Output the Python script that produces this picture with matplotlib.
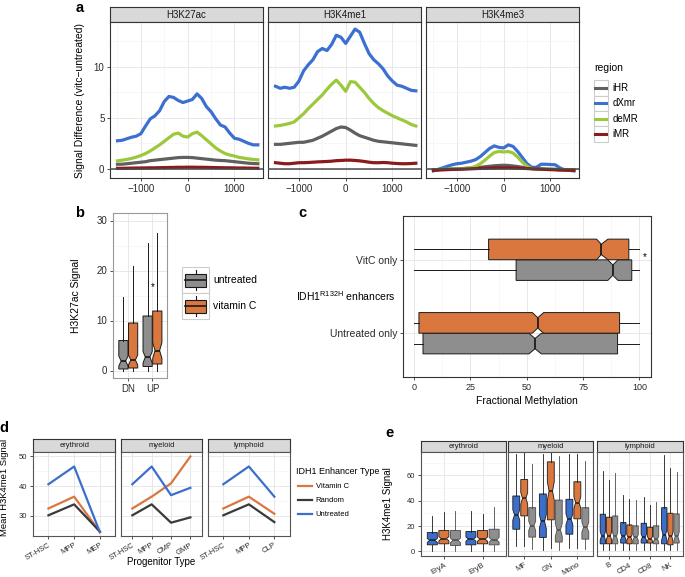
import numpy as np
import matplotlib
matplotlib.use('Agg')
import matplotlib.pyplot as plt
from matplotlib.lines import Line2D
from matplotlib.patches import Rectangle, Patch
from matplotlib.legend_handler import HandlerBase
from matplotlib.ticker import MultipleLocator

plt.rcParams['font.family'] = ['Liberation Sans', 'DejaVu Sans']
plt.rcParams['mathtext.fontset'] = 'custom'
plt.rcParams['mathtext.rm'] = 'Liberation Sans'

# ---------------- data ----------------
# panel a: signal difference around region centres (bp)
pos_a = np.arange(-1500, 1501, 100)
regions = ['iHR', 'dXmr', 'deMR', 'iMR']
region_colors = ['#606060', '#3b6fd0', '#9cc83c', '#8b1a1a']
marks = ['H3K27ac', 'H3K4me1', 'H3K4me3']

k27ac_ihr = [0.45, 0.45, 0.5, 0.55, 0.6, 0.65, 0.7, 0.8, 0.85, 0.9, 0.95, 1.0, 1.05, 1.1, 1.12, 1.12,
             1.1, 1.05, 1.0, 0.95, 0.9, 0.85, 0.82, 0.8, 0.75, 0.7, 0.65, 0.6, 0.55, 0.52, 0.5]
k27ac_dxmr = [2.75, 2.8, 2.95, 3.1, 3.2, 3.45, 4.2, 4.9, 5.2, 5.7, 6.6, 7.1, 7.0, 6.7, 6.5, 6.65,
              6.8, 7.35, 6.9, 6.1, 5.6, 4.9, 4.3, 4.1, 3.5, 3.0, 2.9, 2.7, 2.5, 2.35, 2.35]
k27ac_demr = [0.78, 0.85, 0.92, 1.02, 1.15, 1.3, 1.5, 1.75, 2.05, 2.35, 2.7, 3.05, 3.4, 3.5, 3.2, 3.12,
              3.45, 3.6, 3.25, 2.85, 2.45, 2.05, 1.75, 1.5, 1.35, 1.25, 1.12, 1.05, 0.98, 0.92, 0.88]
k27ac_imr = [0.05, 0.05, 0.06, 0.07, 0.08, 0.08, 0.09, 0.1, 0.1, 0.11, 0.12, 0.13, 0.14, 0.15, 0.15, 0.16,
             0.16, 0.15, 0.15, 0.14, 0.13, 0.12, 0.11, 0.1, 0.1, 0.09, 0.08, 0.08, 0.07, 0.06, 0.05]

k4me1_ihr = [2.4, 2.4, 2.45, 2.5, 2.55, 2.6, 2.6, 2.7, 2.8, 3.0, 3.2, 3.45, 3.7, 3.95, 4.1, 4.05,
             3.8, 3.5, 3.25, 3.1, 2.95, 2.8, 2.7, 2.65, 2.6, 2.55, 2.5, 2.45, 2.4, 2.35, 2.3]
k4me1_dxmr = [8.1, 7.9, 8.0, 7.9, 8.0, 8.6, 9.6, 10.2, 10.7, 11.5, 11.8, 11.6, 12.2, 13.1, 12.9, 12.3,
              13.0, 13.7, 13.4, 12.3, 11.3, 10.7, 10.3, 9.8, 9.1, 8.6, 8.2, 8.1, 7.9, 7.7, 7.65]
k4me1_demr = [4.2, 4.25, 4.35, 4.45, 4.6, 5.0, 5.4, 5.9, 6.35, 6.8, 7.25, 7.8, 8.3, 8.7, 8.2, 7.6,
              8.55, 8.5, 8.0, 7.5, 6.9, 6.4, 6.0, 5.7, 5.45, 5.2, 5.0, 4.8, 4.6, 4.35, 4.2]
k4me1_imr = [0.6, 0.55, 0.5, 0.5, 0.55, 0.6, 0.6, 0.62, 0.65, 0.68, 0.7, 0.72, 0.75, 0.8, 0.82, 0.85,
             0.85, 0.82, 0.78, 0.72, 0.65, 0.6, 0.6, 0.62, 0.6, 0.55, 0.52, 0.5, 0.5, 0.52, 0.55]

k4me3_ihr = [-0.1, -0.08, -0.05, -0.03, 0.0, 0.0, 0.02, 0.05, 0.08, 0.1, 0.15, 0.2, 0.25, 0.3, 0.33, 0.35,
             0.33, 0.28, 0.22, 0.15, 0.1, 0.05, 0.02, 0.0, -0.02, -0.03, -0.05, -0.07, -0.08, -0.1, -0.1]
k4me3_dxmr = [-0.2, -0.05, 0.1, 0.25, 0.4, 0.5, 0.55, 0.65, 0.75, 0.9, 1.2, 1.6, 2.0, 2.25, 2.1, 2.05,
              2.35, 2.2, 1.7, 1.1, 0.5, 0.15, 0.15, 0.45, 0.45, 0.42, 0.4, 0.1, -0.1, -0.15, -0.2]
k4me3_demr = [-0.15, -0.1, -0.05, -0.05, 0.0, 0.0, 0.0, 0.05, 0.1, 0.25, 0.5, 0.85, 1.25, 1.6, 1.7, 1.65,
              1.7, 1.55, 1.15, 0.65, 0.25, 0.0, -0.05, -0.05, -0.05, -0.05, -0.05, -0.1, -0.1, -0.1, -0.1]
k4me3_imr = [-0.15, -0.12, -0.1, -0.08, -0.06, -0.05, -0.04, -0.02, 0.0, 0.02, 0.04, 0.06, 0.08, 0.09, 0.1, 0.1,
             0.1, 0.09, 0.07, 0.05, 0.03, 0.0, -0.02, -0.04, -0.06, -0.08, -0.1, -0.12, -0.13, -0.14, -0.15]

# panel b: H3K27ac signal, boxplot summaries (DN, UP)
b_groups = ['DN', 'UP']
b_untr_lo = [0, 0]
b_untr_q1 = [0.3, 0.8]
b_untr_med = [1.9, 2.7]
b_untr_q3 = [6.0, 10.9]
b_untr_hi = [14.8, 25.5]
b_untr_cilo = [0.9, 1.5]
b_untr_cihi = [2.9, 3.8]
b_vitc_lo = [0, 0]
b_vitc_q1 = [0.5, 1.3]
b_vitc_med = [2.1, 4.0]
b_vitc_q3 = [9.5, 11.9]
b_vitc_hi = [20.9, 27.6]
b_vitc_cilo = [1.1, 2.4]
b_vitc_cihi = [3.1, 5.6]

# panel c: fractional methylation (Untreated only, VitC only)
c_groups = ['Untreated only', 'VitC only']
c_untr_lo = [0, 0]
c_untr_q1 = [4.0, 45.3]
c_untr_med = [53.7, 88.2]
c_untr_q3 = [90.3, 96.6]
c_untr_hi = [100, 100]
c_untr_cilo = [51.0, 86.0]
c_untr_cihi = [56.5, 90.5]
c_vitc_lo = [0, 0]
c_vitc_q1 = [2.2, 33.1]
c_vitc_med = [54.9, 83.1]
c_vitc_q3 = [91.2, 95.3]
c_vitc_hi = [100, 100]
c_vitc_cilo = [52.5, 81.0]
c_vitc_cihi = [57.5, 86.0]

# panel d: mean H3K4me1 signal per progenitor
d_lineages = ['erythroid', 'myeloid', 'lymphoid']
d_stages = [['ST-HSC', 'MPP', 'MEP'], ['ST-HSC', 'MPP', 'CMP', 'GMP'], ['ST-HSC', 'MPP', 'CLP']]
d_vitc = [[32.4, 36.4, 24.4], [32.4, 36.4, 40.9, 50.0], [32.4, 36.4, 30.6]]
d_random = [[30.1, 33.8, 24.6], [30.1, 33.8, 27.6, 29.4], [30.1, 33.8, 27.8]]
d_untreated = [[40.6, 46.6, 24.4], [40.6, 46.6, 36.9, 39.4], [40.6, 46.6, 36.4]]

# panel e: H3K4me1 signal in mature cells
e_cells = ['EryA', 'EryB', 'MF', 'GN', 'Mono', 'B', 'CD4', 'CD8', 'NK']
e_lineage = ['erythroid'] * 2 + ['myeloid'] * 3 + ['lymphoid'] * 4
e_untr_lo = [0, 0, 4.0, 1.3, 2.6, 1.3, 1.3, 1.3, 1.3]
e_untr_q1 = [5.2, 5.2, 17.5, 11.0, 13.6, 6.0, 6.6, 6.6, 6.0]
e_untr_med = [8.7, 9.7, 28.8, 23.6, 25.4, 12.3, 11.8, 11.3, 13.1]
e_untr_q3 = [14.9, 15.7, 43.7, 45.3, 41.1, 29.3, 22.8, 22.2, 34.5]
e_untr_hi = [28.0, 32.2, 76.6, 77.0, 76.6, 63.3, 44.5, 43.2, 75.8]
e_vitc_lo = [0, 0, 4.5, 2.6, 2.6, 1.3, 1.3, 1.3, 1.3]
e_vitc_q1 = [6.0, 6.0, 28.0, 24.9, 25.7, 6.0, 6.0, 6.6, 5.2]
e_vitc_med = [10.0, 9.7, 41.9, 47.6, 38.5, 12.3, 11.0, 10.0, 11.8]
e_vitc_q3 = [16.5, 16.5, 56.7, 70.6, 54.9, 27.0, 20.9, 19.1, 30.1]
e_vitc_hi = [31.4, 29.6, 78.0, 78.0, 77.0, 56.2, 41.1, 36.6, 65.4]
e_rand_lo = [0, 0, 1.8, 1.3, 1.8, 1.3, 1.3, 1.3, 1.3]
e_rand_q1 = [4.7, 5.2, 11.3, 7.4, 9.7, 6.0, 6.0, 6.0, 6.6]
e_rand_med = [8.7, 9.2, 20.2, 17.0, 19.1, 11.8, 11.0, 9.7, 11.8]
e_rand_q3 = [16.5, 17.5, 34.5, 40.5, 34.5, 28.0, 20.2, 20.2, 29.6]
e_rand_hi = [32.2, 34.8, 68.8, 75.0, 71.4, 61.5, 40.5, 39.2, 62.8]
e_n = 100  # approx. enhancers per box, used for notch width

ORANGE = '#d9773f'
GRAY = '#8e8e8e'
BLUE = '#3c6fcc'
DARK = '#3a3a3a'

# ---------------- helpers ----------------
W, H = 685, 577
fig = plt.figure(figsize=(W / 100, H / 100), dpi=100)


def add_ax(x0, y0, x1, y1):
    return fig.add_axes([x0 / W, 1 - y1 / H, (x1 - x0) / W, (y1 - y0) / H])


def theme(ax, size=6.5, border='#333333'):
    for s in ax.spines.values():
        s.set_color(border)
        s.set_linewidth(0.8)
    ax.grid(True, which='major', color='#e4e4e4', lw=0.6)
    ax.grid(True, which='minor', color='#f2f2f2', lw=0.4)
    ax.set_axisbelow(True)
    ax.tick_params(which='major', length=2.5, width=0.6, color='#333333',
                   labelsize=size, labelcolor='#2a2a2a', pad=1.5)
    ax.tick_params(which='minor', length=0)


def strip(x0, x1, y0, y1, text, size):
    s = add_ax(x0, y0, x1, y1)
    s.set_facecolor('#d9d9d9')
    s.set_xticks([])
    s.set_yticks([])
    for sp in s.spines.values():
        sp.set_color('#333333')
        sp.set_linewidth(0.8)
    s.text(0.5, 0.5, text, ha='center', va='center', fontsize=size,
           color='#1a1a1a', transform=s.transAxes)


def stats(lo, q1, med, q3, hi, cilo, cihi):
    return [dict(whislo=a, q1=b, med=c, q3=d, whishi=e, cilo=f, cihi=g, fliers=[])
            for a, b, c, d, e, f, g in zip(lo, q1, med, q3, hi, cilo, cihi)]


def boxes(ax, st, positions, width, color, edge='#1a1a1a', lw=0.7, orientation='vertical'):
    ax.bxp(st, positions=positions, widths=width, shownotches=True, patch_artist=True,
           showfliers=False, showcaps=False, manage_ticks=False, orientation=orientation,
           boxprops=dict(facecolor=color, edgecolor=edge, linewidth=lw),
           medianprops=dict(color=edge, linewidth=lw * 1.8),
           whiskerprops=dict(color=edge, linewidth=lw))


class KeyHandler(HandlerBase):
    def __init__(self, border=True, **kw):
        super().__init__(**kw)
        self.border = border

    def create_artists(self, legend, orig, xdescent, ydescent, width, height, fontsize, trans):
        x0, y0 = -xdescent, -ydescent
        arts = []
        if self.border:
            arts.append(Rectangle((x0, y0), width, height, facecolor='white',
                                  edgecolor='#cccccc', lw=0.8, transform=trans))
        if isinstance(orig, Line2D):
            arts.append(Line2D([x0 + 0.1 * width, x0 + 0.9 * width], [y0 + height / 2] * 2,
                               color=orig.get_color(), lw=orig.get_linewidth(), transform=trans))
        else:
            cx = x0 + width / 2
            arts.append(Line2D([cx, cx], [y0 + 0.1 * height, y0 + 0.9 * height],
                               color='#1a1a1a', lw=0.8, transform=trans))
            arts.append(Rectangle((x0 + 0.12 * width, y0 + 0.25 * height), 0.76 * width, 0.5 * height,
                                  facecolor=orig.get_facecolor(), edgecolor='#1a1a1a', lw=0.8,
                                  transform=trans))
            arts.append(Line2D([x0 + 0.12 * width, x0 + 0.88 * width], [y0 + height / 2] * 2,
                               color='#1a1a1a', lw=1.2, transform=trans))
        return arts


def panel_label(x, y, t):
    fig.text(x / W, 1 - y / H, t, fontsize=10.5, fontweight='bold', ha='center', va='center')


# ---------------- panel a ----------------
a_lines = [[k27ac_ihr, k27ac_dxmr, k27ac_demr, k27ac_imr],
           [k4me1_ihr, k4me1_dxmr, k4me1_demr, k4me1_imr],
           [k4me3_ihr, k4me3_dxmr, k4me3_demr, k4me3_imr]]
a_x = [(110, 263), (268, 421), (426, 579)]
for i, ((x0, x1), mark, series) in enumerate(zip(a_x, marks, a_lines)):
    strip(x0, x1, 7, 22, mark, 7)
    ax = add_ax(x0, 22, x1, 178)
    theme(ax, size=7)
    for vals, col, name in zip(series, region_colors, regions):
        ax.plot(pos_a, vals, color=col, lw=2.3, label=name)
    ax.axhline(0, color='#4a4a4a', lw=1.1, zorder=5)
    ax.set_xlim(-1660, 1610)
    ax.set_ylim(-0.9, 14.4)
    ax.set_xticks([-1000, 0, 1000])
    ax.xaxis.set_minor_locator(MultipleLocator(500))
    ax.set_yticks([0, 5, 10])
    ax.yaxis.set_minor_locator(MultipleLocator(2.5))
    if i == 0:
        ax.set_ylabel('Signal Difference (vitc\u2212untreated)', fontsize=7.5)
        ax.yaxis.set_label_coords(-0.165, 0.5)
    else:
        ax.tick_params(left=False, labelleft=False)

a_handles = [Line2D([], [], color=c, lw=2.2) for c in region_colors]
fig.text(594 / W, 1 - 68 / H, 'region', fontsize=7.5, ha='left', va='center')
fig.legend(a_handles, regions, loc='upper left',
           bbox_to_anchor=(594 / W, 1 - 80.5 / H), frameon=False, fontsize=7,
           handler_map={Line2D: KeyHandler()}, handlelength=1.4,
           handleheight=2.04, labelspacing=0, handletextpad=0.5, borderpad=0,
           borderaxespad=0)
panel_label(80, 8, 'a')

# ---------------- panel b ----------------
ax = add_ax(113, 213, 167, 378)
theme(ax, size=7, border='#999999')
b_pos = np.arange(1, len(b_groups) + 1)
boxes(ax, stats(b_untr_lo, b_untr_q1, b_untr_med, b_untr_q3, b_untr_hi, b_untr_cilo, b_untr_cihi),
      b_pos - 0.2, 0.38, GRAY)
boxes(ax, stats(b_vitc_lo, b_vitc_q1, b_vitc_med, b_vitc_q3, b_vitc_hi, b_vitc_cilo, b_vitc_cihi),
      b_pos + 0.2, 0.38, ORANGE)
ax.text(2, 16.7, '*', ha='center', va='center', fontsize=7)
ax.set_xlim(0.37, 2.6)
ax.set_ylim(-1.5, 31.5)
ax.set_xticks(b_pos)
ax.set_xticklabels(b_groups)
ax.set_yticks([0, 10, 20, 30])
ax.yaxis.set_minor_locator(MultipleLocator(5))
ax.set_ylabel('H3K27ac Signal', fontsize=7.5)
ax.yaxis.set_label_coords(-0.6, 0.5)
fig.legend([Patch(facecolor=GRAY), Patch(facecolor=ORANGE)], ['untreated', 'vitamin C'],
           loc='upper left', bbox_to_anchor=(182 / W, 1 - 267 / H), frameon=False,
           fontsize=7.5, handler_map={Patch: KeyHandler()}, handlelength=2.6,
           handleheight=3.47, labelspacing=0, handletextpad=0.4, borderpad=0, borderaxespad=0)
panel_label(80, 213, 'b')

# ---------------- panel c ----------------
ax = add_ax(402.7, 215.7, 650.7, 377.3)
theme(ax, size=6.5)
c_pos = np.arange(1, len(c_groups) + 1)
boxes(ax, stats(c_untr_lo, c_untr_q1, c_untr_med, c_untr_q3, c_untr_hi, c_untr_cilo, c_untr_cihi),
      c_pos - 0.141, 0.28, GRAY, orientation='horizontal')
boxes(ax, stats(c_vitc_lo, c_vitc_q1, c_vitc_med, c_vitc_q3, c_vitc_hi, c_vitc_cilo, c_vitc_cihi),
      c_pos + 0.141, 0.28, ORANGE, orientation='horizontal')
ax.text(101.3, 2.03, '*', ha='left', va='center', fontsize=7)
ax.set_xlim(-5, 105)
ax.set_ylim(0.4, 2.6)
ax.set_xticks([0, 25, 50, 75, 100])
ax.xaxis.set_minor_locator(MultipleLocator(12.5))
ax.set_yticks(c_pos)
ax.set_yticklabels(c_groups, fontsize=7.5)
ax.set_xlabel('Fractional Methylation', fontsize=7.5, labelpad=3)
ax.text(-0.03, 0.5, 'IDH1$^{\\mathrm{R132H}}$ enhancers', transform=ax.transAxes,
        ha='right', va='center', fontsize=7.5)
panel_label(302, 213, 'c')

# ---------------- panel d ----------------
d_x = [(33, 115.3), (120.7, 202), (208, 289.7)]
for i, ((x0, x1), lin) in enumerate(zip(d_x, d_lineages)):
    strip(x0, x1, 439, 451.7, lin, 5.5)
    ax = add_ax(x0, 451.7, x1, 536)
    theme(ax, size=5.5, border='#555555')
    st = d_stages[i]
    ax.plot(st, d_vitc[i], color=ORANGE, lw=1.6, label='Vitamin C')
    ax.plot(st, d_random[i], color=DARK, lw=1.6, label='Random')
    ax.plot(st, d_untreated[i], color=BLUE, lw=1.6, label='Untreated')
    ax.set_xlim(-0.6, len(st) - 0.4)
    ax.set_ylim(23.1, 51.6)
    ax.set_yticks([30, 40, 50])
    ax.yaxis.set_minor_locator(MultipleLocator(5))
    for lab in ax.get_xticklabels():
        lab.set_rotation(30)
        lab.set_ha('right')
        lab.set_rotation_mode('anchor')
    if i == 0:
        ax.set_ylabel('Mean H3K4me1 Signal', fontsize=6.8)
        ax.yaxis.set_label_coords(-0.29, 0.58)
    else:
        ax.tick_params(left=False, labelleft=False)
    if i == 1:
        ax.set_xlabel('Progenitor Type', fontsize=7)
        ax.xaxis.label.set_va('center')
        ax.xaxis.set_label_coords(0.5, -0.31)
d_handles = [Line2D([], [], color=c, lw=1.6) for c in (ORANGE, DARK, BLUE)]
fig.text(296 / W, 1 - 471 / H, 'IDH1 Enhancer Type', fontsize=6.5, ha='left', va='center')
fig.legend(d_handles, ['Vitamin C', 'Random', 'Untreated'],
           loc='upper left', bbox_to_anchor=(296 / W, 1 - 478.6 / H), frameon=False, fontsize=5.5,
           handler_map={Line2D: KeyHandler(border=False)}, handlelength=2.3,
           handleheight=2.44, labelspacing=0, handletextpad=0.3, borderpad=0, borderaxespad=0)
panel_label(4, 428, 'd')

# ---------------- panel e ----------------
e_x = [(420.7, 505.7), (508.3, 593.3), (596.7, 682.7)]


def e_stats(lo, q1, med, q3, hi, idx):
    q1a, meda, q3a = np.array(q1)[idx], np.array(med)[idx], np.array(q3)[idx]
    half = 1.58 * (q3a - q1a) / np.sqrt(e_n)
    return stats(np.array(lo)[idx], q1a, meda, q3a, np.array(hi)[idx], meda - half, meda + half)


for i, ((x0, x1), lin) in enumerate(zip(e_x, d_lineages)):
    strip(x0, x1, 441, 451.7, lin, 5.5)
    ax = add_ax(x0, 451.7, x1, 556)
    theme(ax, size=5.5, border='#555555')
    idx = [k for k, l in enumerate(e_lineage) if l == lin]
    xp = np.arange(len(idx))
    boxes(ax, e_stats(e_untr_lo, e_untr_q1, e_untr_med, e_untr_q3, e_untr_hi, idx),
          xp - 0.3, 0.26, BLUE, lw=0.6)
    boxes(ax, e_stats(e_vitc_lo, e_vitc_q1, e_vitc_med, e_vitc_q3, e_vitc_hi, idx),
          xp, 0.26, ORANGE, lw=0.6)
    boxes(ax, e_stats(e_rand_lo, e_rand_q1, e_rand_med, e_rand_q3, e_rand_hi, idx),
          xp + 0.3, 0.26, GRAY, edge='#4a4a4a', lw=0.6)
    ax.set_xlim(-0.6, len(idx) - 0.4)
    ax.set_ylim(-3.6, 78.6)
    ax.set_xticks(xp)
    ax.set_xticklabels([e_cells[k] for k in idx], rotation=30, ha='right',
                       rotation_mode='anchor')
    ax.set_yticks([0, 20, 40, 60])
    ax.yaxis.set_minor_locator(MultipleLocator(10))
    if i == 0:
        ax.set_ylabel('H3K4me1 Signal', fontsize=7)
        ax.yaxis.set_label_coords(-0.33, 0.5)
    else:
        ax.tick_params(left=False, labelleft=False)
panel_label(390, 433, 'e')

fig.savefig('out.png', dpi=100)
